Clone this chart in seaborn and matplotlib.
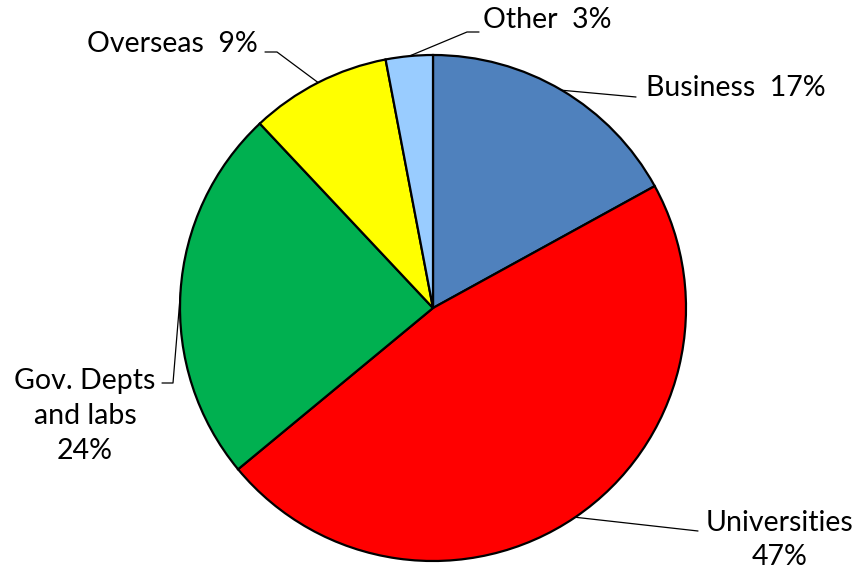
import numpy as np
import matplotlib
matplotlib.use('Agg')
import matplotlib.pyplot as plt
import seaborn as sns

# data
sources = ['Business', 'Universities', 'Gov. Depts\nand labs', 'Overseas', 'Other']
shares = [17, 47, 24, 9, 3]
colors = ['#4F81BD', '#FF0000', '#00B050', '#FFFF00', '#99CCFF']

sns.set_theme(style='white')
plt.rcParams['font.family'] = ['Lato', 'DejaVu Sans']

W, H = 860, 573
fig = plt.figure(figsize=(W / 100, H / 100), dpi=100)
ax = fig.add_axes([0, 0, 1, 1])

# pie centre / radius in pixels (y measured from the top)
cx, cy, r = 433, 308, 253
wedges, _ = ax.pie(shares, colors=colors, startangle=90, counterclock=False,
                   center=(cx, H - cy), radius=r,
                   wedgeprops=dict(edgecolor='black', linewidth=1.6))
ax.set_xlim(0, W)
ax.set_ylim(0, H)
ax.set_aspect('equal')
ax.axis('off')

# label layout: separator, text anchor (px from top), alignment, leader bends
layout = [
    ('  ', (646, 88), 'left', [(636, 97)]),
    ('\n', (780, 540), 'center', [(698, 531)]),
    ('\n', (85, 416), 'center', [(173, 383), (162, 383)]),
    ('  ', (258, 44), 'right', [(277, 52), (265, 52)]),
    ('  ', (483, 20), 'left', [(467, 32), (479, 32)]),
]

for w, name, pct, (sep, (tx, ty), ha, bends) in zip(wedges, sources, shares, layout):
    mid = np.deg2rad((w.theta1 + w.theta2) / 2)
    ex = cx + r * np.cos(mid)
    ey = (H - cy) + r * np.sin(mid)
    xs = [ex] + [b[0] for b in bends]
    ys = [ey] + [H - b[1] for b in bends]
    ax.plot(xs, ys, color='black', linewidth=0.9, zorder=0.5)
    ax.text(tx, H - ty, f'{name}{sep}{pct}%', ha=ha, va='center',
            fontsize=20.5, linespacing=1.42, color='black')

fig.savefig('out.png', dpi=100)
